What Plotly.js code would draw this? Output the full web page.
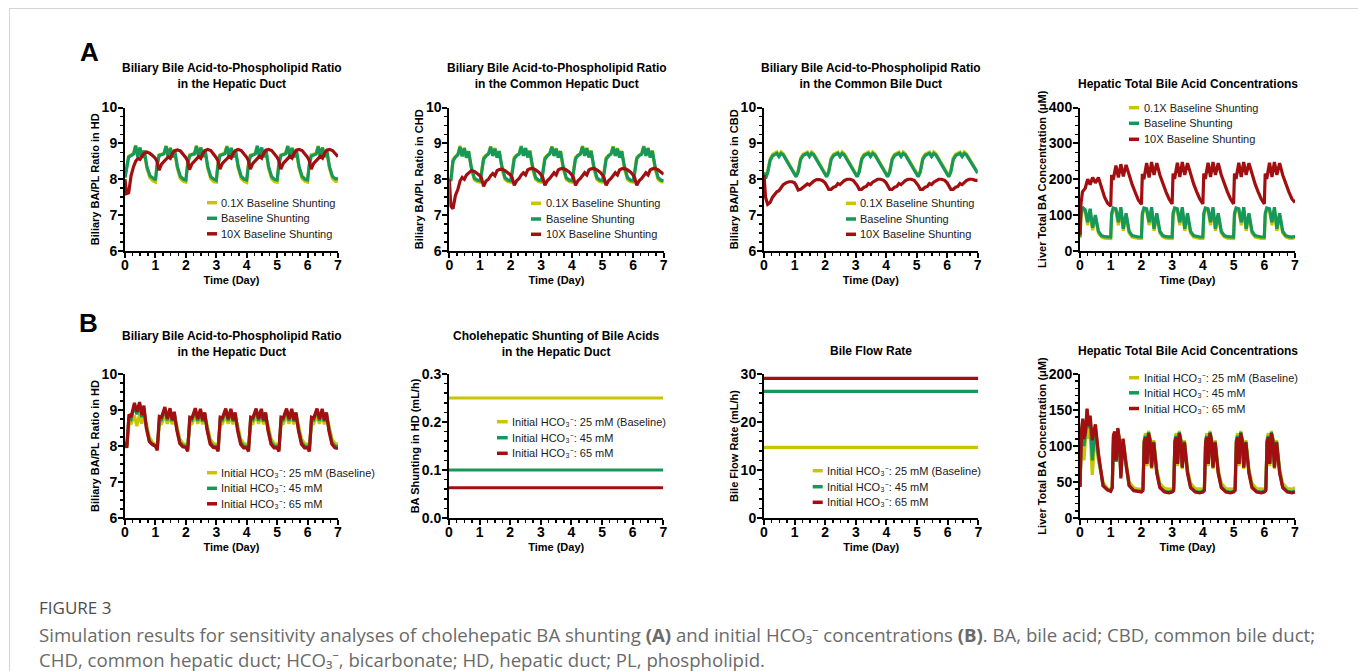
<!DOCTYPE html>
<html><head><meta charset="utf-8">
<script src="https://cdn.plot.ly/plotly-3.0.1.min.js"></script>
<style>html,body{margin:0;padding:0;background:#fff;}#chart{width:1358px;height:671px;}</style>
</head><body><div id="chart"></div>
<script>
// ---------------- DATA ----------------
const namesA = ['0.1X Baseline Shunting', 'Baseline Shunting', '10X Baseline Shunting'];
const namesB = ['Initial HCO₃⁻: 25 mM (Baseline)', 'Initial HCO₃⁻: 45 mM', 'Initial HCO₃⁻: 65 mM'];

// time (day) for panels A1-A3
const tA = [0,0.05,0.12,0.2,0.28,0.35,0.42,0.49,0.56,0.63,0.72,0.82,0.92,
1,1.05,1.12,1.2,1.28,1.35,1.42,1.49,1.56,1.63,1.72,1.82,1.92,
2,2.05,2.12,2.2,2.28,2.35,2.42,2.49,2.56,2.63,2.72,2.82,2.92,
3,3.05,3.12,3.2,3.28,3.35,3.42,3.49,3.56,3.63,3.72,3.82,3.92,
4,4.05,4.12,4.2,4.28,4.35,4.42,4.49,4.56,4.63,4.72,4.82,4.92,
5,5.05,5.12,5.2,5.28,5.35,5.42,5.49,5.56,5.63,5.72,5.82,5.92,
6,6.05,6.12,6.2,6.28,6.35,6.42,6.49,6.56,6.63,6.72,6.82,6.92,
7];

// A1: BA/PL ratio in HD
const a1Low = [8.05,8.35,8.64,8.68,8.72,8.95,8.63,8.88,8.60,8.80,8.30,8.04,7.95,
7.92,8.40,8.68,8.70,8.72,8.93,8.63,8.88,8.61,8.80,8.30,8.02,7.94,
7.92,8.41,8.68,8.71,8.72,8.94,8.64,8.89,8.62,8.81,8.30,8.01,7.93,
7.92,8.40,8.68,8.70,8.73,8.93,8.63,8.88,8.61,8.80,8.31,8.02,7.94,
7.91,8.40,8.67,8.70,8.72,8.94,8.63,8.89,8.62,8.81,8.30,8.01,7.93,
7.92,8.41,8.68,8.71,8.72,8.93,8.64,8.88,8.61,8.80,8.31,8.02,7.94,
7.92,8.40,8.68,8.70,8.72,8.93,8.63,8.88,8.62,8.80,8.30,8.02,7.94,
7.95];
const a1Base = [8.05,8.30,8.62,8.66,8.70,8.93,8.62,8.88,8.60,8.80,8.35,8.10,8.02,
7.98,8.36,8.66,8.68,8.71,8.92,8.62,8.87,8.61,8.82,8.36,8.08,8.00,
7.98,8.35,8.65,8.69,8.70,8.92,8.63,8.88,8.62,8.82,8.35,8.07,8.00,
7.97,8.36,8.66,8.68,8.71,8.91,8.62,8.87,8.61,8.81,8.36,8.08,8.00,
7.98,8.35,8.65,8.68,8.70,8.92,8.62,8.88,8.62,8.82,8.35,8.07,7.99,
7.98,8.36,8.66,8.69,8.71,8.92,8.63,8.87,8.61,8.82,8.36,8.08,8.00,
7.98,8.35,8.65,8.68,8.70,8.91,8.62,8.88,8.62,8.81,8.35,8.08,8.01,
8.02];
const a1High = [8.00,7.60,7.62,8.10,8.35,8.50,8.58,8.55,8.65,8.72,8.76,8.72,8.65,
8.58,8.50,8.25,8.42,8.50,8.55,8.62,8.58,8.72,8.80,8.82,8.79,8.70,
8.60,8.52,8.27,8.43,8.50,8.56,8.63,8.58,8.72,8.80,8.83,8.80,8.70,
8.60,8.52,8.28,8.44,8.51,8.56,8.63,8.59,8.73,8.80,8.83,8.80,8.71,
8.61,8.53,8.28,8.44,8.51,8.57,8.64,8.59,8.73,8.81,8.83,8.80,8.71,
8.61,8.53,8.28,8.44,8.51,8.57,8.64,8.59,8.73,8.81,8.83,8.80,8.71,
8.61,8.53,8.28,8.44,8.51,8.57,8.64,8.59,8.73,8.81,8.83,8.80,8.71,
8.63];

// A2: BA/PL ratio in CHD
const a2Low = [8.05,7.98,8.55,8.64,8.70,8.93,8.65,8.88,8.60,8.78,8.28,7.98,7.93,
7.92,8.20,8.60,8.67,8.72,8.92,8.66,8.87,8.61,8.79,8.28,7.99,7.93,
7.92,8.21,8.61,8.67,8.72,8.93,8.66,8.88,8.61,8.80,8.28,7.99,7.93,
7.92,8.20,8.60,8.67,8.72,8.92,8.66,8.87,8.61,8.79,8.28,7.99,7.93,
7.92,8.21,8.61,8.67,8.72,8.93,8.66,8.88,8.61,8.80,8.28,7.99,7.93,
7.92,8.20,8.60,8.67,8.72,8.92,8.66,8.87,8.61,8.79,8.28,7.99,7.93,
7.92,8.21,8.61,8.67,8.72,8.93,8.66,8.88,8.61,8.80,8.28,7.99,7.93,
7.92];
const a2Base = [8.05,7.95,8.50,8.62,8.68,8.90,8.64,8.86,8.60,8.78,8.33,8.03,7.97,
7.96,8.15,8.56,8.65,8.70,8.90,8.65,8.85,8.60,8.78,8.35,8.04,7.97,
7.96,8.16,8.57,8.66,8.70,8.91,8.65,8.86,8.61,8.79,8.35,8.04,7.97,
7.96,8.15,8.56,8.65,8.71,8.90,8.65,8.85,8.60,8.78,8.35,8.04,7.97,
7.96,8.16,8.57,8.66,8.70,8.91,8.65,8.86,8.61,8.79,8.35,8.04,7.97,
7.96,8.15,8.56,8.65,8.70,8.90,8.65,8.85,8.60,8.78,8.35,8.04,7.97,
7.96,8.16,8.57,8.66,8.70,8.91,8.65,8.86,8.61,8.79,8.35,8.04,7.97,
7.96];
const a2High = [8.00,7.25,7.18,7.55,7.72,7.95,8.05,8.00,8.12,8.18,8.24,8.22,8.15,
8.10,8.03,7.80,7.95,8.00,8.10,8.16,8.10,8.24,8.27,8.28,8.24,8.18,
8.12,8.05,7.83,7.96,8.02,8.12,8.18,8.12,8.26,8.29,8.30,8.26,8.20,
8.12,8.05,7.83,7.96,8.02,8.12,8.18,8.12,8.26,8.29,8.30,8.26,8.20,
8.12,8.05,7.83,7.96,8.02,8.12,8.18,8.12,8.26,8.29,8.30,8.26,8.20,
8.12,8.05,7.83,7.96,8.02,8.12,8.18,8.12,8.26,8.29,8.30,8.26,8.20,
8.12,8.05,7.83,7.96,8.02,8.12,8.18,8.12,8.26,8.29,8.30,8.26,8.20,
8.14];

// A3: BA/PL ratio in CBD
const a3Low = [8.20,8.04,8.22,8.56,8.69,8.72,8.76,8.66,8.76,8.71,8.57,8.43,8.29,
8.18,8.08,8.24,8.59,8.70,8.72,8.76,8.66,8.76,8.71,8.57,8.43,8.29,
8.18,8.08,8.24,8.59,8.70,8.72,8.76,8.66,8.76,8.71,8.57,8.43,8.29,
8.18,8.08,8.24,8.59,8.70,8.72,8.76,8.66,8.76,8.71,8.57,8.43,8.29,
8.18,8.08,8.24,8.59,8.70,8.72,8.76,8.66,8.76,8.71,8.57,8.43,8.29,
8.18,8.08,8.24,8.59,8.70,8.72,8.76,8.66,8.76,8.71,8.57,8.43,8.29,
8.18,8.08,8.24,8.59,8.70,8.72,8.76,8.66,8.76,8.71,8.57,8.43,8.29,
8.18];
const a3Base = [8.18,8.02,8.18,8.52,8.65,8.68,8.72,8.63,8.72,8.68,8.55,8.42,8.28,
8.17,8.07,8.20,8.55,8.66,8.68,8.72,8.63,8.72,8.68,8.55,8.42,8.28,
8.17,8.07,8.20,8.55,8.66,8.68,8.72,8.63,8.72,8.68,8.55,8.42,8.28,
8.17,8.07,8.20,8.55,8.66,8.68,8.72,8.63,8.72,8.68,8.55,8.42,8.28,
8.17,8.07,8.20,8.55,8.66,8.68,8.72,8.63,8.72,8.68,8.55,8.42,8.28,
8.17,8.07,8.20,8.55,8.66,8.68,8.72,8.63,8.72,8.68,8.55,8.42,8.28,
8.17,8.07,8.20,8.55,8.66,8.68,8.72,8.63,8.72,8.68,8.55,8.42,8.28,
8.17];
const a3High = [8.12,7.50,7.30,7.35,7.50,7.58,7.65,7.68,7.78,7.85,7.90,7.93,7.93,
7.90,7.83,7.70,7.72,7.77,7.80,7.87,7.84,7.91,7.95,7.99,7.99,7.96,
7.90,7.83,7.72,7.72,7.78,7.80,7.88,7.85,7.92,7.96,8.00,8.00,7.97,
7.90,7.83,7.72,7.72,7.78,7.80,7.88,7.85,7.92,7.96,8.00,8.00,7.97,
7.90,7.83,7.72,7.72,7.78,7.80,7.88,7.85,7.92,7.96,8.00,8.00,7.97,
7.90,7.83,7.72,7.72,7.78,7.80,7.88,7.85,7.92,7.96,8.00,8.00,7.97,
7.90,7.83,7.72,7.72,7.78,7.80,7.88,7.85,7.92,7.96,8.00,8.00,7.97,
7.97];

// A4: liver total BA (uM)
const tA4 = [0,0.03,0.08,0.17,0.25,0.33,0.41,0.5,0.6,0.7,0.8,0.9,
1,1.03,1.08,1.17,1.25,1.33,1.41,1.5,1.6,1.7,1.8,1.9,
2,2.03,2.08,2.17,2.25,2.33,2.41,2.5,2.6,2.7,2.8,2.9,
3,3.03,3.08,3.17,3.25,3.33,3.41,3.5,3.6,3.7,3.8,3.9,
4,4.03,4.08,4.17,4.25,4.33,4.41,4.5,4.6,4.7,4.8,4.9,
5,5.03,5.08,5.17,5.25,5.33,5.41,5.5,5.6,5.7,5.8,5.9,
6,6.03,6.08,6.17,6.25,6.33,6.41,6.5,6.6,6.7,6.8,6.9,
7];
const a4Low = [36,92,115,110,72,112,58,95,50,39,36,35,
35,98,114,112,72,116,56,100,50,39,36,35,
35,98,114,112,72,116,56,100,50,39,36,35,
35,98,114,112,72,116,56,100,50,39,36,35,
35,98,114,112,72,116,56,100,50,39,36,35,
35,98,114,112,72,116,56,100,50,39,36,35,
35,98,114,112,72,116,56,100,50,39,36,35,
37];
const a4Base = [40,100,122,115,80,118,65,100,55,43,40,39,
39,105,120,118,80,122,62,105,55,43,40,39,
39,105,120,118,80,122,62,105,55,43,40,39,
39,105,120,118,80,122,62,105,55,43,40,39,
39,105,120,118,80,122,62,105,55,43,40,39,
39,105,120,118,80,122,62,105,55,43,40,39,
39,105,120,118,80,122,62,105,55,43,40,39,
41];
const a4High = [45,130,165,175,200,185,205,190,205,175,150,133,
125,212,198,238,205,242,208,240,210,185,163,142,
130,215,200,245,205,248,212,245,212,187,165,145,
131,216,201,246,206,248,212,245,212,187,165,145,
131,216,201,246,206,248,212,245,212,187,165,145,
131,216,201,246,206,248,212,245,212,187,165,145,
131,216,201,246,206,248,212,245,212,187,165,145,
135];

// B1: BA/PL ratio in HD
const tB1 = [0,0.06,0.13,0.2,0.31,0.39,0.48,0.55,0.62,0.7,0.8,0.9,
1,1.06,1.13,1.2,1.31,1.39,1.48,1.55,1.62,1.7,1.8,1.9,
2,2.06,2.13,2.2,2.31,2.39,2.48,2.55,2.62,2.7,2.8,2.9,
3,3.06,3.13,3.2,3.31,3.39,3.48,3.55,3.62,3.7,3.8,3.9,
4,4.06,4.13,4.2,4.31,4.39,4.48,4.55,4.62,4.7,4.8,4.9,
5,5.06,5.13,5.2,5.31,5.39,5.48,5.55,5.62,5.7,5.8,5.9,
6,6.06,6.13,6.2,6.31,6.39,6.48,6.55,6.62,6.7,6.8,6.9,
7];
const b1H25 = [8.10,8.02,8.62,8.62,8.85,8.55,8.88,8.62,8.80,8.62,8.25,8.10,
8.05,8.00,8.60,8.62,8.85,8.62,8.85,8.60,8.80,8.58,8.20,8.07,
8.05,8.00,8.60,8.62,8.85,8.62,8.85,8.60,8.80,8.58,8.20,8.07,
8.05,8.00,8.60,8.62,8.85,8.62,8.85,8.60,8.80,8.58,8.20,8.07,
8.05,8.00,8.60,8.62,8.85,8.62,8.85,8.60,8.80,8.58,8.20,8.07,
8.05,8.00,8.60,8.62,8.85,8.62,8.85,8.60,8.80,8.58,8.20,8.07,
8.05,8.00,8.60,8.62,8.85,8.62,8.85,8.60,8.80,8.58,8.20,8.07,
8.05];
const b1H45 = [8.10,7.98,8.80,8.75,9.12,8.88,9.15,8.80,9.05,8.55,8.15,8.05,
8.00,7.90,8.76,8.73,9.02,8.71,9.00,8.69,8.91,8.49,8.11,8.01,
7.99,7.90,8.75,8.72,9.00,8.70,8.98,8.68,8.90,8.48,8.10,8.00,
7.99,7.90,8.75,8.72,9.00,8.70,8.98,8.68,8.90,8.48,8.10,8.00,
7.99,7.90,8.75,8.72,9.00,8.70,8.98,8.68,8.90,8.48,8.10,8.00,
7.99,7.90,8.75,8.72,9.00,8.70,8.98,8.68,8.90,8.48,8.10,8.00,
7.99,7.90,8.75,8.72,9.00,8.70,8.98,8.68,8.90,8.48,8.10,8.00,
7.98];
const b1H65 = [8.12,7.95,8.88,8.80,9.20,8.95,9.22,8.86,9.12,8.50,8.12,8.04,
8.00,7.88,8.82,8.80,9.08,8.76,9.05,8.72,8.95,8.45,8.07,7.98,
7.96,7.85,8.80,8.78,9.05,8.75,9.03,8.72,8.93,8.43,8.05,7.96,
7.95,7.85,8.80,8.78,9.04,8.75,9.03,8.72,8.93,8.43,8.05,7.95,
7.95,7.85,8.80,8.78,9.04,8.75,9.03,8.72,8.93,8.43,8.05,7.95,
7.95,7.85,8.80,8.78,9.04,8.75,9.03,8.72,8.93,8.43,8.05,7.95,
7.95,7.85,8.80,8.78,9.04,8.75,9.03,8.72,8.93,8.43,8.05,7.95,
7.93];

// B2: BA shunting in HD (mL/h), B3: bile flow rate (mL/h)
const tFlat = [0, 7];
const b2H25 = [0.25, 0.25];
const b2H45 = [0.10, 0.10];
const b2H65 = [0.063, 0.063];
const b3H25 = [14.7, 14.7];
const b3H45 = [26.4, 26.4];
const b3H65 = [29.1, 29.1];

// B4: liver total BA (uM)
const tB4 = [0,0.05,0.09,0.13,0.18,0.23,0.28,0.33,0.4,0.5,0.6,0.75,0.9,
1,1.05,1.09,1.13,1.18,1.23,1.28,1.33,1.4,1.5,1.6,1.75,1.9,
2,2.05,2.09,2.13,2.18,2.23,2.28,2.33,2.4,2.5,2.6,2.75,2.9,
3,3.05,3.09,3.13,3.18,3.23,3.28,3.33,3.4,3.5,3.6,3.75,3.9,
4,4.05,4.09,4.13,4.18,4.23,4.28,4.33,4.4,4.5,4.6,4.75,4.9,
5,5.05,5.09,5.13,5.18,5.23,5.28,5.33,5.4,5.5,5.6,5.75,5.9,
6,6.05,6.09,6.13,6.18,6.23,6.28,6.33,6.4,6.5,6.6,6.75,6.9,
7];
const b4H25 = [43,110,125,80,112,140,110,120,60,118,80,50,40,
40,44,112,120,78,124,110,62,110,78,50,42,40,
40,42,108,118,72,121,110,68,108,68,48,41,40,
40,42,108,118,72,121,110,68,108,68,48,41,40,
40,42,108,118,72,121,110,68,108,68,48,41,40,
40,42,108,118,72,121,110,68,108,68,48,41,40,
40,42,108,118,72,121,110,68,108,68,48,41,40,
42];
const b4H45 = [43,118,135,100,118,150,125,140,80,128,85,45,39,
38,42,113,118,78,123,108,58,108,73,45,38,37,
37,40,107,114,76,119,109,71,106,64,43,37,36,
37,40,107,114,76,119,109,71,106,64,43,37,36,
37,40,107,114,76,119,109,71,106,64,43,37,36,
37,40,107,114,76,119,109,71,106,64,43,37,36,
37,40,107,114,76,119,109,71,106,64,43,37,36,
37];
const b4H65 = [43,122,138,110,120,152,128,142,108,130,90,45,39,
37,42,115,120,80,125,110,55,110,75,45,38,37,
36,38,105,112,75,118,108,70,105,62,42,36,35,
36,38,105,112,75,118,108,70,105,62,42,36,35,
36,38,105,112,75,118,108,70,105,62,42,36,35,
36,38,105,112,75,118,108,70,105,62,42,36,35,
36,38,105,112,75,118,108,70,105,62,42,36,35,
36];

const titleBAPL = 'Biliary Bile Acid-to-Phospholipid Ratio';
const captionHead = 'FIGURE 3';
const captionLine1 = 'Simulation results for sensitivity analyses of cholehepatic BA shunting <b>(A)</b> and initial HCO₃⁻ concentrations <b>(B)</b>. BA, bile acid; CBD, common bile duct;';
const captionLine2 = 'CHD, common hepatic duct; HCO₃⁻, bicarbonate; HD, hepatic duct; PL, phospholipid.';

// ---------------- LAYOUT / STYLE ----------------
const W = 1358, H = 671;
const fx = x => x / W, fy = y => 1 - y / H;
const FONT = '"Liberation Sans", Arial, Helvetica, sans-serif';
const COLORS = ['#c9c500', '#16985b', '#a20f10'];
const rowA = [107.5, 251], rowB = [374, 518];

const panels = [
  {x:[125,338], y:rowA, yr:[6,10], dt:1, mn:0.25, yt:'Biliary BA/PL Ratio in HD', title:titleBAPL+'<br>in the Hepatic Duct', ty:76,
   t:tA, s:[a1Low,a1Base,a1High], names:namesA, lg:{x0:207,x1:217,tx:219,ys:[202.7,218.3,233.8]}},
  {x:[449.3,663.7], y:rowA, yr:[6,10], dt:1, mn:0.25, yt:'Biliary BA/PL Ratio in CHD', title:titleBAPL+'<br>in the Common Hepatic Duct', ty:76,
   t:tA, s:[a2Low,a2Base,a2High], names:namesA, lg:{x0:531,x1:541,tx:543.5,ys:[203.3,219,234.3]}},
  {x:[764,977.7], y:rowA, yr:[6,10], dt:1, mn:0.25, yt:'Biliary BA/PL Ratio in CBD', title:titleBAPL+'<br>in the Common Bile Duct', ty:76,
   t:tA, s:[a3Low,a3Base,a3High], names:namesA, lg:{x0:846,x1:856,tx:858,ys:[203.3,219,234.3]}},
  {x:[1080,1295], y:rowA, yr:[0,400], dt:100, mn:25, yt:'Liver Total BA Concentration (μM)', title:'Hepatic Total Bile Acid Concentrations', ty:84,
   t:tA4, s:[a4Low,a4Base,a4High], names:namesA, lg:{x0:1129,x1:1139,tx:1141.5,ys:[107.7,123.3,139.3]}},
  {x:[125,338], y:rowB, yr:[6,10], dt:1, mn:0.25, yt:'Biliary BA/PL Ratio in HD', title:titleBAPL+'<br>in the Hepatic Duct', ty:344,
   t:tB1, s:[b1H25,b1H45,b1H65], names:namesB, lg:{x0:207,x1:217,tx:219,ys:[472.7,488.3,503.8]}},
  {x:[449,663.3], y:rowB, yr:[0,0.3], dt:0.1, mn:0.02, fmt:'.1f', yt:'BA Shunting in HD (mL/h)', title:'Cholehepatic Shunting of Bile Acids<br>in the Hepatic Duct', ty:344,
   t:tFlat, s:[b2H25,b2H45,b2H65], names:namesB, lg:{x0:497,x1:507.7,tx:510,ys:[421.7,437.7,453.3]}},
  {x:[764,978.3], y:rowB, yr:[0,30], dt:10, mn:2, yt:'Bile Flow Rate (mL/h)', title:'Bile Flow Rate', ty:350.7,
   t:tFlat, s:[b3H25,b3H45,b3H65], names:namesB, lg:{x0:812.7,x1:822.7,tx:825,ys:[470.7,486.7,502.3]}},
  {x:[1080,1295], y:rowB, yr:[0,200], dt:50, mn:10, yt:'Liver Total BA Concentration (μM)', title:'Hepatic Total Bile Acid Concentrations', ty:350.7,
   t:tB4, s:[b4H25,b4H45,b4H65], names:namesB, lg:{x0:1129,x1:1139,tx:1141.5,ys:[377.7,392.8,408.5]}}
];

const traces = [];
const layout = {
  width: W, height: H, margin:{l:0,r:0,t:0,b:0}, paper_bgcolor:'#fff', plot_bgcolor:'rgba(0,0,0,0)',
  showlegend:false, annotations:[], shapes:[], font:{family:FONT, color:'#000'}
};

const tickFont = {family:FONT, size:14, color:'#000', weight:'bold'};
const axTitleFont = {family:FONT, size:11, color:'#000', weight:'bold'};

panels.forEach((p, i) => {
  const n = i + 1;
  const xa = n === 1 ? 'x' : 'x' + n, ya = n === 1 ? 'y' : 'y' + n;
  const xk = n === 1 ? 'xaxis' : 'xaxis' + n, yk = n === 1 ? 'yaxis' : 'yaxis' + n;
  const common = {showline:true, linecolor:'#000', linewidth:2, ticks:'outside', ticklen:5, tickwidth:2, tickcolor:'#000',
    showgrid:false, zeroline:false, tickfont:tickFont, fixedrange:true};
  layout[xk] = Object.assign({}, common, {domain:[fx(p.x[0]), fx(p.x[1])], anchor:ya, range:[0,7], tick0:0, dtick:1,
    minor:{ticks:'outside', ticklen:3, tickwidth:1.5, tickcolor:'#000', dtick:0.25, showgrid:false},
    ticklabelstandoff:-5,
    title:{text:'Time (Day)', font:axTitleFont, standoff:5}});
  layout[yk] = Object.assign({}, common, {domain:[fy(p.y[1]), fy(p.y[0])], anchor:xa, range:p.yr, tick0:p.yr[0], dtick:p.dt,
    minor:{ticks:'outside', ticklen:3, tickwidth:1.5, tickcolor:'#000', dtick:p.mn, showgrid:false},
    tickformat:p.fmt || '', ticklabelstandoff:-2,
    title:{text:p.yt, font:axTitleFont, standoff:0}});
  p.s.forEach((vals, k) => {
    traces.push({type:'scatter', mode:'lines', x:p.t, y:vals, xaxis:xa, yaxis:ya, name:p.names[k],
      line:{color:COLORS[k], width:3.2, shape:'linear'}, hoverinfo:'skip', showlegend:false});
    const yy = p.lg.ys[k];
    layout.shapes.push({type:'line', xref:'paper', yref:'paper', x0:fx(p.lg.x0), x1:fx(p.lg.x1), y0:fy(yy), y1:fy(yy),
      line:{color:COLORS[k], width:3.5}});
    layout.annotations.push({xref:'paper', yref:'paper', x:fx(p.lg.tx), y:fy(yy), xanchor:'left', yanchor:'middle',
      text:p.names[k], showarrow:false, font:{family:FONT, size:11, color:'#1a1a1a'}});
  });
  layout.annotations.push({xref:'paper', yref:'paper', x:fx((p.x[0]+p.x[1])/2), y:fy(p.ty), xanchor:'center', yanchor:'middle',
    text:p.title, showarrow:false, font:{family:FONT, size:12, color:'#000', weight:'bold'}});
});

// panel letters
layout.annotations.push({xref:'paper', yref:'paper', x:fx(89), y:fy(52), xanchor:'center', yanchor:'middle', text:'A', showarrow:false,
  font:{family:FONT, size:26, color:'#000', weight:'bold'}});
layout.annotations.push({xref:'paper', yref:'paper', x:fx(88), y:fy(323), xanchor:'center', yanchor:'middle', text:'B', showarrow:false,
  font:{family:FONT, size:26, color:'#000', weight:'bold'}});

// caption
const CAPFONT = '"Open Sans", "Noto Sans", sans-serif';
layout.annotations.push({xref:'paper', yref:'paper', x:fx(37), y:fy(607), xanchor:'left', yanchor:'middle', text:captionHead, showarrow:false,
  font:{family:CAPFONT, size:17, color:'#4d4d4d'}});
layout.annotations.push({xref:'paper', yref:'paper', x:fx(37), y:fy(634), xanchor:'left', yanchor:'middle', text:captionLine1, showarrow:false,
  font:{family:CAPFONT, size:18.6, color:'#6a6a6a'}});
layout.annotations.push({xref:'paper', yref:'paper', x:fx(37), y:fy(659), xanchor:'left', yanchor:'middle', text:captionLine2, showarrow:false,
  font:{family:CAPFONT, size:18.6, color:'#6a6a6a'}});

// card border
layout.shapes.push({type:'line', xref:'paper', yref:'paper', x0:fx(9), x1:1, y0:fy(8.5), y1:fy(8.5), line:{color:'#d4d4d4', width:1}});
layout.shapes.push({type:'line', xref:'paper', yref:'paper', x0:fx(9.5), x1:fx(9.5), y0:fy(8), y1:0, line:{color:'#d4d4d4', width:1}});

Plotly.newPlot('chart', traces, layout, {displayModeBar:false, staticPlot:true});
</script></body></html>
